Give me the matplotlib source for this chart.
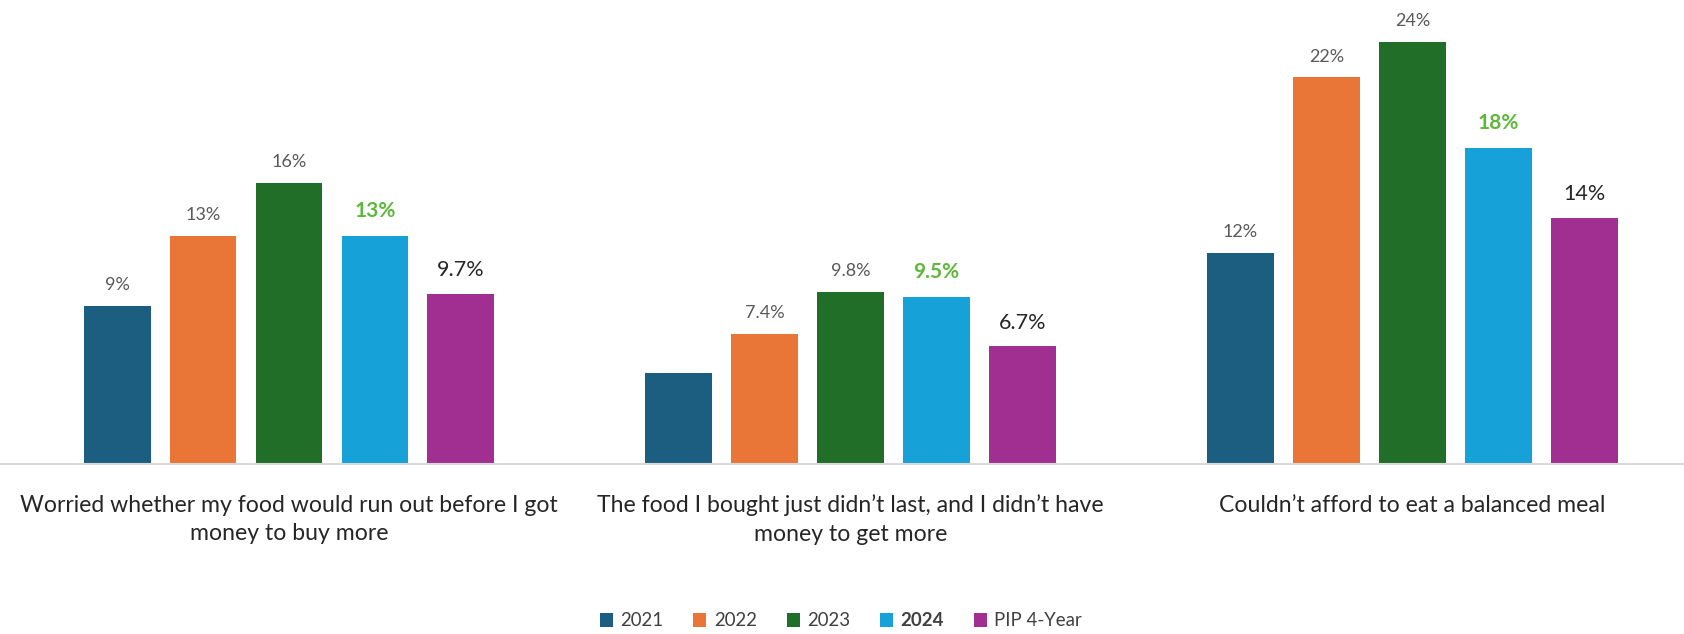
import matplotlib
matplotlib.use("Agg")
import matplotlib.pyplot as plt
import numpy as np
from matplotlib.patches import Patch

categories = [
    "Worried whether my food would run out before I got\nmoney to buy more",
    "The food I bought just didn\u2019t last, and I didn\u2019t have\nmoney to get more",
    "Couldn\u2019t afford to eat a balanced meal",
]
series_names = ["2021", "2022", "2023", "2024", "PIP 4-Year"]
v2021 = [9, 5.2, 12]
v2022 = [13, 7.4, 22]
v2023 = [16, 9.8, 24]
v2024 = [13, 9.5, 18]
vpip = [9.7, 6.7, 14]
labels2021 = ["9%", None, "12%"]
labels2022 = ["13%", "7.4%", "22%"]
labels2023 = ["16%", "9.8%", "24%"]
labels2024 = ["13%", "9.5%", "18%"]
labelspip = ["9.7%", "6.7%", "14%"]

values = [v2021, v2022, v2023, v2024, vpip]
labels = [labels2021, labels2022, labels2023, labels2024, labelspip]
colors = ["#1b5e80", "#e97537", "#206e28", "#16a1d8", "#a12e91"]

# per-series label styling
lab_color = ["#595959", "#595959", "#595959", "#5db83a", "#262626"]
lab_size = [13, 13, 13, 15, 15.5]
lab_weight = ["normal", "normal", "normal", "bold", "normal"]
lab_off = [15, 15, 15, 18, 17]

FONT = "Lato"

fig = plt.figure(figsize=(16.84, 6.34), dpi=100)
ax = fig.add_axes([0, 0.268, 1, 0.732])

x = np.arange(len(categories))
pitch = 0.153
width = 0.119
for i, (vals, col) in enumerate(zip(values, colors)):
    xs = x + (i - 2) * pitch
    ax.bar(xs, vals, width=width, color=col, zorder=2)
    for xi, v, lab in zip(xs, vals, labels[i]):
        if lab is None:
            continue
        ax.annotate(lab, (xi, v), xytext=(0, lab_off[i]), textcoords="offset points",
                    ha="center", va="center", color=lab_color[i],
                    fontsize=lab_size[i], fontweight=lab_weight[i], family=FONT,
                    annotation_clip=False)

ax.set_xlim(-0.5145, 2.4835)
ax.set_ylim(0, 26.4)
ax.set_yticks([])
ax.set_xticks(x)
ax.set_xticklabels(categories, fontsize=16.6, family=FONT, color="#262626", linespacing=1.45)
ax.tick_params(axis="x", length=0, pad=22)
for s in ["top", "right", "left"]:
    ax.spines[s].set_visible(False)
ax.spines["bottom"].set_color("#d9d9d9")
ax.spines["bottom"].set_linewidth(1.5)

handles = [Patch(facecolor=c, edgecolor="none") for c in colors]
leg = fig.legend(handles, series_names, loc="center", ncol=5, frameon=False,
                 handlelength=0.7, handleheight=0.7, handletextpad=0.4, columnspacing=1.6,
                 prop={"family": FONT, "size": 13.4})
leg.set_bbox_to_anchor((841 / 1684, 1 - 621 / 634), transform=fig.transFigure)
for t in leg.get_texts():
    t.set_color("#404040")
leg.get_texts()[3].set_fontweight("bold")

fig.savefig("out.png", dpi=100, facecolor="white")
